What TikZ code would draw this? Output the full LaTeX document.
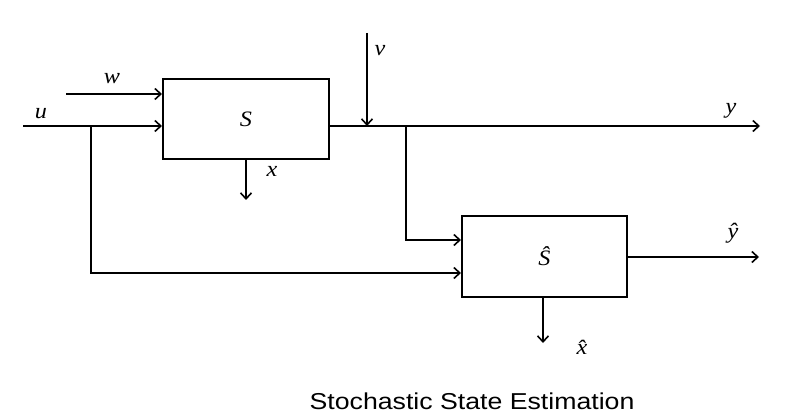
\documentclass[tikz,border=0pt]{standalone}
\usepackage{fontspec}
\setmainfont{Liberation Serif}
\newfontfamily\capfont{Liberation Sans}
\usetikzlibrary{arrows.meta}
\newcommand{\wideit}[1]{\scalebox{1.1}[1]{\fontsize{22}{22}\selectfont\itshape #1}}
\begin{document}
\begin{tikzpicture}[x=1pt,y=-1pt,
  blk/.style={draw,line width=2pt,minimum width=166pt,minimum height=80pt,inner sep=0pt},
  arr/.style={line width=2pt,-{Straight Barb[length=6pt,width=11pt,line width=1.6pt]}},
  ln/.style={line width=2pt},
  lab/.style={inner sep=0pt}]
\useasboundingbox (0,0) rectangle (794,419);
\node[blk] (S) at (246,119) {\wideit{S}};
\node[blk,minimum width=165pt,minimum height=81pt] (Sh) at (544.5,256.5) {\wideit{\^{S}}};
\coordinate (uin) at (23,126);
\coordinate (win) at (66,94);
\coordinate (ub) at (91,126);
\coordinate (yout) at (760,126);
\coordinate (vin) at (367,33);
\coordinate (yb) at (406,126);
\coordinate (yhout) at (759,257);
\coordinate (xout) at (246,200);
\coordinate (xhout) at (543,343);
\draw[arr] (win) -- (win -| S.west);
\draw[arr] (uin) -- (uin -| S.west);
\draw[arr] (ub) |- ([yshift=-16.5pt]Sh.west);
\draw[ln] (S.east |- yout) -- (vin |- yout);
\draw[arr] (vin |- yout) -- (yout);
\draw[arr] (vin) -- (vin |- yout);
\draw[arr] (yb) |- ([yshift=16.5pt]Sh.west);
\draw[arr] (Sh.east |- yhout) -- (yhout);
\draw[arr] (S.south) -- (xout);
\draw[arr] (Sh.south -| xhout) -- (xhout);
\node[lab] (lu) at (41,114) {\wideit{u}};
\node[lab] (lw) at (112,79) {\wideit{w}};
\node[lab] (lv) at (380,51) {\wideit{v}};
\node[lab] (lx) at (272,171) {\wideit{x}};
\node[lab] (ly) at (731,111) {\wideit{y}};
\node[lab] (lyh) at (733,233) {\wideit{\^{y}}};
\node[lab] (lxh) at (582,347) {\wideit{\^{x}}};
\node[inner sep=0pt] (cap) at (472,401) {\scalebox{1.16}[1]{\capfont\fontsize{23}{23}\selectfont Stochastic State Estimation}};
\end{tikzpicture}
\end{document}
